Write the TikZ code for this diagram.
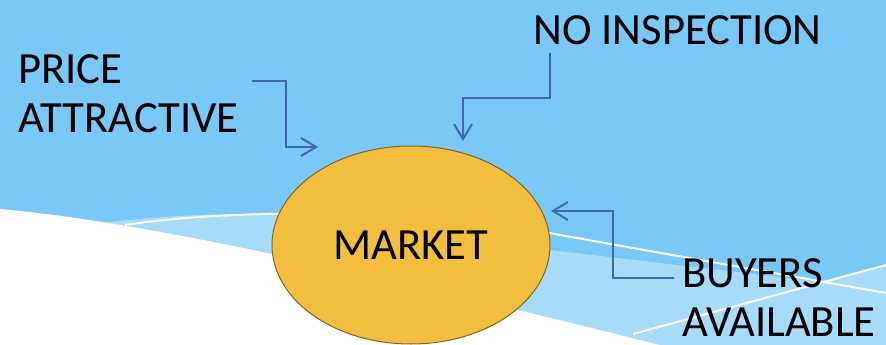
\documentclass[tikz,border=0pt]{standalone}
\usepackage{fontspec}
\setmainfont{Carlito}
\usetikzlibrary{arrows.meta,shapes.geometric}
\definecolor{sky}{RGB}{121,200,247}
\definecolor{skylight}{RGB}{166,219,249}
\definecolor{mktfill}{RGB}{243,190,62}
\definecolor{mktline}{RGB}{130,100,40}
\definecolor{arrblue}{RGB}{62,104,178}
\begin{document}
\begin{tikzpicture}[x=1pt,y=-1pt,
  lbl/.style={inner sep=0pt, font=\fontsize{44.6}{49}\selectfont, align=left, anchor=base west, text=black},
  conn/.style={draw=arrblue, line width=2pt, -{Straight Barb[length=15pt,width=18pt]}},
  wave/.style={white, line width=2pt}]
\useasboundingbox (0,0) rectangle (886,345);
% background
\fill[sky] (0,0) rectangle (886,345);
\fill[skylight] (110,222) .. controls (250,206) and (430,212) .. (550,250) -- (822,282) -- (886,265) -- (886,345) -- (0,345) -- (0,222) -- cycle;
\fill[white] (0,209) .. controls (150,222) and (400,280) .. (660,345) -- (0,345) -- cycle;
\draw[wave] (125,225) .. controls (250,206) and (440,212) .. (560,235) -- (886,293);
\draw[wave] (633,334) -- (886,265);
% nodes
\node[ellipse, draw=mktline, line width=1pt, fill=mktfill, minimum width=278pt, minimum height=198pt, inner sep=0pt,
      font=\fontsize{44.6}{50}\selectfont] (market) at (411,245) {MARKET};
\node[lbl] (price) at (18,132) {PRICE\\ATTRACTIVE};
\node[lbl] (noinsp) at (533,45) {NO INSPECTION};
\node[lbl, text depth=0pt] (buyers) at (682,336) {BUYERS\\AVAILABLE};
% connector ends
\coordinate (pa) at (252,81);
\coordinate (pb) at (318,147);
\coordinate (na) at (550,53);
\coordinate (nb) at (463,141);
\coordinate (ba) at (674,278);
\coordinate (bb) at (551,211);
% connectors
\draw[conn] (pa) -- ++(34,0) |- (pb);
\draw[conn] (na) -- ++(0,45) -| (nb);
\draw[conn] (ba) -- ++(-61,0) |- (bb);
\end{tikzpicture}
\end{document}
